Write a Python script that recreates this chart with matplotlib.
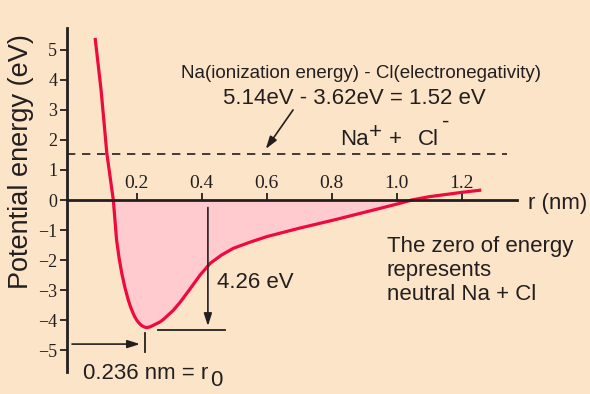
import numpy as np
import matplotlib.pyplot as plt

# potential energy curve (r in nm, V in eV)
r_nm = [0.072, 0.081, 0.090, 0.099, 0.108, 0.118, 0.128, 0.138, 0.146, 0.154,
        0.164, 0.174, 0.181, 0.188, 0.194, 0.200, 0.207, 0.215, 0.223, 0.231,
        0.240, 0.250, 0.261, 0.272, 0.282, 0.292, 0.302, 0.313, 0.334, 0.354,
        0.375, 0.395, 0.426, 0.460, 0.497, 0.550, 0.600, 0.650, 0.700, 0.805,
        0.908, 1.010, 1.046, 1.100, 1.204, 1.260]
energy_ev = [5.40, 4.55, 3.70, 2.64, 1.56, 0.78, 0.00, -1.33, -1.95, -2.44,
             -2.93, -3.33, -3.56, -3.75, -3.89, -4.00, -4.10, -4.18, -4.23, -4.25,
             -4.23, -4.18, -4.12, -4.06, -3.98, -3.88, -3.78, -3.67, -3.40, -3.11,
             -2.80, -2.50, -2.11, -1.84, -1.61, -1.40, -1.22, -1.08, -0.94, -0.67,
             -0.39, -0.11, 0.00, 0.11, 0.26, 0.33]

xticks = [0.2, 0.4, 0.6, 0.8, 1.0, 1.2]
xtick_labels = ['0.2', '0.4', '0.6', '0.8', '1.0', '1.2']
yticks = [5, 4, 3, 2, 1, 0, -1, -2, -3, -4, -5]
ion_level = 1.52      # Na+ + Cl- level, eV
well_depth = -4.26    # eV
r0 = 0.236            # nm

bg = '#FCE4C8'
ink = '#231F20'
red = '#EE0A3C'
pink = '#FFCBCF'
sans = 'Liberation Sans'
serif = 'Liberation Serif'
arrow = dict(arrowstyle='-|>,head_length=0.75,head_width=0.24', color=ink,
             lw=1.2, mutation_scale=10, shrinkA=0, shrinkB=0)

fig = plt.figure(figsize=(5.9, 3.94), dpi=100, facecolor=bg)
ax = fig.add_axes([67 / 590, 1 - 372 / 394, 450 / 590, 344 / 394])
ax.set_facecolor(bg)
ax.set_xlim(-0.0145, 1.37)
ax.set_ylim(-5.73, 5.73)

r = np.array(r_nm)
v = np.array(energy_ev)
ax.fill_between(r, v, 0, where=v <= 0, interpolate=True, color=pink, lw=0, zorder=1)
ax.plot(r, v, color=red, lw=2.3, solid_capstyle='butt', zorder=3)

# spines
for s in ['top', 'right']:
    ax.spines[s].set_visible(False)
ax.spines['bottom'].set_position(('data', 0))
ax.spines['left'].set_linewidth(2.0)
ax.spines['bottom'].set_linewidth(2.0)
ax.spines['left'].set_color(ink)
ax.spines['bottom'].set_color(ink)
ax.spines['bottom'].set_zorder(4)

ax.set_xticks(xticks)
ax.set_xticklabels([])
ax.tick_params(axis='x', direction='in', length=5, width=1.3, color=ink)
for xt, lab in zip(xticks, xtick_labels):
    ax.text(xt, 0.4, lab, ha='center', va='baseline', fontsize=14,
            family=serif, color=ink)

ax.set_yticks(yticks)
ax.set_yticklabels([f'{t}'.replace('-', '\u2212') for t in yticks],
                   family=serif, fontsize=13, color=ink)
ax.tick_params(axis='y', direction='out', length=5, width=1.3, color=ink, pad=2)

fig.text(21 / 590, 1 - 162 / 394, 'Potential energy (eV)', rotation=90,
         ha='center', va='center', fontsize=19.5, family=sans, color=ink)
ax.text(1.404, -0.3, 'r (nm)', ha='left', va='baseline', fontsize=16,
        family=sans, color=ink, clip_on=False)

# ionic level
ax.plot([-0.0145, 1.339], [ion_level, ion_level], color=ink, lw=1.2,
        dashes=(5, 4), zorder=2)
ax.text(0.891, 4.06, 'Na(ionization energy) - Cl(electronegativity)',
        ha='center', va='baseline', fontsize=13.5, family=sans, color=ink)
ax.text(0.871, 3.19, '5.14eV - 3.62eV = 1.52 eV', ha='center', va='baseline',
        fontsize=16, family=sans, color=ink)
ax.annotate('', xy=(0.597, 1.70), xytext=(0.681, 3.0), arrowprops=arrow)
ax.text(0.825, 1.83, 'Na', ha='left', va='baseline', fontsize=16,
        family=sans, color=ink)
ax.text(0.915, 2.07, '+', ha='left', va='baseline', fontsize=16,
        family=sans, color=ink)
ax.text(0.975, 1.83, '+', ha='left', va='baseline', fontsize=16,
        family=sans, color=ink)
ax.text(1.065, 1.83, 'Cl', ha='left', va='baseline', fontsize=16,
        family=sans, color=ink)
ax.text(1.138, 2.4, '-', ha='left', va='baseline', fontsize=16,
        family=sans, color=ink)

# well depth
ax.plot([0.266, 0.472], [-4.33, -4.33], color=ink, lw=1.3)
ax.annotate('', xy=(0.419, -4.2), xytext=(0.419, -0.25), arrowprops=arrow)
ax.text(0.447, -2.93, f'{-well_depth:.2f} eV', ha='left', va='baseline',
        fontsize=16, family=sans, color=ink)

# equilibrium distance
ax.plot([0.226, 0.226], [-4.43, -5.07], color=ink, lw=1.3)
ax.annotate('', xy=(0.21, -4.8), xytext=(0.001, -4.8), arrowprops=arrow)
ax.text(0.035, -5.97, f'{r0} nm = r', ha='left', va='baseline', fontsize=16,
        family=sans, color=ink, clip_on=False)
ax.text(0.426, -6.2, '0', ha='left', va='baseline', fontsize=16,
        family=sans, color=ink, clip_on=False)

# multi-line baseline anchors the last line
ax.text(0.969, -3.33, 'The zero of energy\nrepresents\nneutral Na + Cl',
        ha='left', va='baseline', fontsize=16, family=sans, color=ink,
        linespacing=1.2)

fig.savefig('out.png', dpi=100, facecolor=bg)
